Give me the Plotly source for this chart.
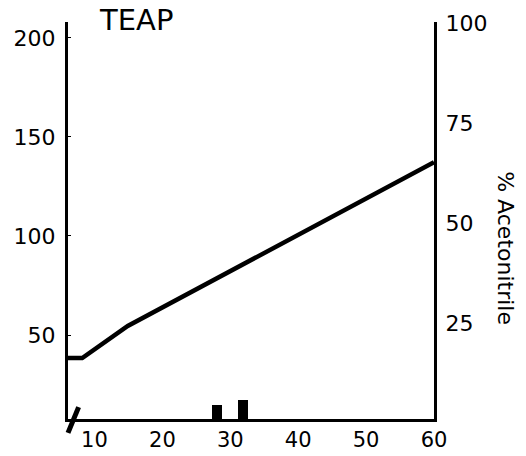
import plotly.graph_objects as go

# Gradient (% acetonitrile, right axis) vs time
grad_time = [6, 8.2, 14.9, 60]
grad_pct = [16.25, 16.25, 24.25, 65.2]

# Peaks (left axis)
peak_time = [28.0, 31.9]
peak_height = [14.7, 17.2]

x_ticks = [10, 20, 30, 40, 50, 60]
y_left_ticks = [50, 100, 150, 200]
y_right_ticks = [25, 50, 75, 100]

FONT = "DejaVu Sans"

fig = go.Figure()
fig.add_trace(go.Bar(x=peak_time, y=peak_height, width=1.45,
                     marker=dict(color="black", line=dict(width=0)),
                     yaxis="y", showlegend=False))
fig.add_trace(go.Scatter(x=grad_time, y=grad_pct, mode="lines",
                         line=dict(color="black", width=4.5),
                         yaxis="y2", showlegend=False))

fig.update_layout(
    width=526, height=456,
    margin=dict(l=68, r=92, t=22, b=37, autoexpand=False),
    paper_bgcolor="white", plot_bgcolor="white",
    font=dict(family=FONT, size=22, color="black"),
    xaxis=dict(range=[6.1, 60.0], tickvals=x_ticks, showgrid=False, zeroline=False,
               showline=True, linecolor="black", linewidth=3, automargin=False,
               ticks="", ticklabelstandoff=0, tickfont=dict(size=21)),
    yaxis=dict(range=[7.6, 208], tickvals=y_left_ticks, showgrid=False, zeroline=False,
               showline=True, linecolor="black", linewidth=3, automargin=False,
               ticks="inside", ticklen=3, tickwidth=1, tickcolor="black",
               ticklabelstandoff=5),
    yaxis2=dict(range=[1, 100.25], tickvals=y_right_ticks, overlaying="y", side="right",
                showgrid=False, zeroline=False, automargin=False,
                showline=True, linecolor="black", linewidth=3,
                ticks="", ticklabelstandoff=4),
    bargap=0,
    annotations=[
        dict(text="TEAP", xref="paper", yref="paper", x=0.186, y=1.005,
             xanchor="center", yanchor="middle", showarrow=False,
             font=dict(family=FONT, size=29, color="black")),
        dict(text="% Acetonitrile", xref="paper", yref="paper", x=1.197, y=0.43,
             xanchor="center", yanchor="middle", showarrow=False, textangle=90,
             font=dict(family=FONT, size=22, color="black")),
    ],
    shapes=[
        dict(type="line", xref="paper", yref="paper", x0=0.029, y0=0.030,
             x1=0.0, y1=-0.035, line=dict(color="black", width=5)),
    ],
)

fig.write_html("out.html", config={"displayModeBar": False},
               post_script="document.body.style.margin='0';document.body.style.overflow='hidden';")
